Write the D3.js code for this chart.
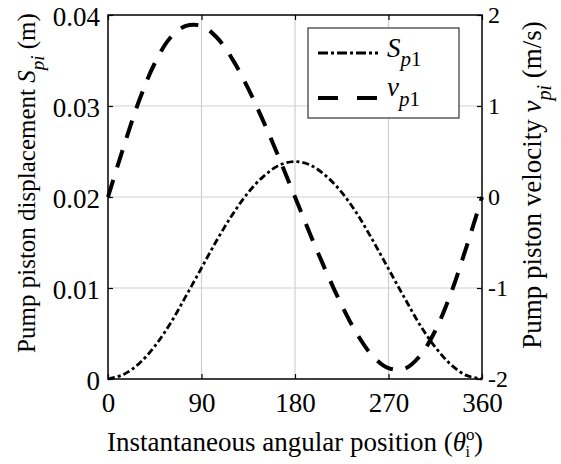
<!DOCTYPE html>
<html><head><meta charset="utf-8">
<script src="https://cdn.jsdelivr.net/npm/d3@7"></script>
</head>
<body style="margin:0;background:#fff">
<svg id="c" width="561" height="464"></svg>
<script>
// Data
const angles = [0,15,30,45,60,75,90,105,120,135,150,165,180,195,210,225,240,255,270,285,300,315,330,345,360];
const displacement = [0,0.0005,0.0017,0.0036,0.0061,0.0091,0.0122,0.0153,0.0181,0.0205,0.0223,0.0235,0.0239,0.0235,0.0223,0.0205,0.0181,0.0152,0.0121,0.0090,0.0060,0.0035,0.0016,0.0004,0];
const velocity = [0,0.55,1.06,1.47,1.75,1.88,1.88,1.75,1.51,1.19,0.82,0.42,0,-0.42,-0.82,-1.19,-1.51,-1.75,-1.88,-1.89,-1.75,-1.47,-1.06,-0.55,0];
const xTicks = [0,90,180,270,360];
const yLeftTicks = [0,0.01,0.02,0.03,0.04];
const yLeftLabels = ["0","0.01","0.02","0.03","0.04"];
const yRightTicks = [-2,-1,0,1,2];
const yRightLabels = ["-2","-1","0","1","2"];

const FONT = "'Liberation Serif'";
const svg = d3.select("#c");
const L=108, R=482, T=15, B=379;
const x = d3.scaleLinear().domain([0,360]).range([L,R]);
const yL = d3.scaleLinear().domain([0,0.04]).range([B,T]);
const yR = d3.scaleLinear().domain([-2,2]).range([B,T]);
const FS = 27;

// grid
const g = svg.append("g");
g.selectAll(".gx").data(xTicks.slice(1,-1)).enter().append("line")
 .attr("x1",d=>x(d)).attr("x2",d=>x(d)).attr("y1",T).attr("y2",B)
 .attr("stroke","#cfcfcf").attr("stroke-width",1.2);
g.selectAll(".gy").data(yLeftTicks.slice(1,-1)).enter().append("line")
 .attr("x1",L).attr("x2",R).attr("y1",d=>yL(d)).attr("y2",d=>yL(d))
 .attr("stroke","#cfcfcf").attr("stroke-width",1.2);

// curves
const lineS = d3.line().x((d,i)=>x(angles[i])).y(d=>yL(d)).curve(d3.curveCatmullRom);
const lineV = d3.line().x((d,i)=>x(angles[i])).y(d=>yR(d)).curve(d3.curveCatmullRom);
svg.append("path").attr("d",lineS(displacement)).attr("fill","none")
 .attr("stroke","#000").attr("stroke-width",2.8).attr("stroke-dasharray","7,3,3,3");
svg.append("path").attr("d",lineV(velocity)).attr("fill","none")
 .attr("stroke","#000").attr("stroke-width",4).attr("stroke-dasharray","18,13");

// axes
function styleAxis(size){
  return sel=>{
    sel.attr("font-family",null).attr("font-size",null);
    sel.select(".domain").remove();
    sel.selectAll(".tick line").attr("stroke","#000").attr("stroke-width",1.2);
    sel.selectAll(".tick text").style("font-size",size+"px").style("font-family",FONT).attr("fill","#000");
  };
}
svg.append("g").attr("transform",`translate(0,${B})`)
 .call(d3.axisBottom(x).tickValues(xTicks).tickSizeInner(-5).tickSizeOuter(0).tickPadding(14))
 .call(styleAxis(FS));
svg.append("g").attr("transform",`translate(0,${T})`)
 .call(d3.axisTop(x).tickValues(xTicks).tickSizeInner(-5).tickSizeOuter(0).tickFormat(""))
 .call(styleAxis(FS));
svg.append("g").attr("transform",`translate(${L},0)`)
 .call(d3.axisLeft(yL).tickValues(yLeftTicks).tickFormat((d,i)=>yLeftLabels[i]).tickSizeInner(-5).tickSizeOuter(0).tickPadding(8))
 .call(styleAxis(FS))
 .selectAll(".tick text").attr("dy","0.37em");
svg.append("g").attr("transform",`translate(${R},0)`)
 .call(d3.axisRight(yR).tickValues(yRightTicks).tickFormat((d,i)=>yRightLabels[i]).tickSizeInner(-5).tickSizeOuter(0).tickPadding(6))
 .call(styleAxis(24))
 .selectAll(".tick text").attr("dy","0.3em");

// box
svg.append("rect").attr("x",L).attr("y",T).attr("width",R-L).attr("height",B-T)
 .attr("fill","none").attr("stroke","#000").attr("stroke-width",1.5);

// legend
svg.append("rect").attr("x",308).attr("y",28).attr("width",151).attr("height",90)
 .attr("fill","#fff").attr("stroke","#333").attr("stroke-width",1.2);
svg.append("line").attr("x1",318).attr("x2",378).attr("y1",53).attr("y2",53)
 .attr("stroke","#000").attr("stroke-width",2.8).attr("stroke-dasharray","10,3,3,3");
svg.append("line").attr("x1",318).attr("x2",378).attr("y1",98).attr("y2",98)
 .attr("stroke","#000").attr("stroke-width",4).attr("stroke-dasharray","20,19");
function txt(){ return svg.append("text").style("font-family",FONT).style("font-size",FS+"px").attr("fill","#000"); }
const l1 = txt().attr("x",387).attr("y",57);
l1.append("tspan").attr("font-style","italic").text("S");
l1.append("tspan").attr("dy",9).style("font-size","21px").attr("font-style","italic").text("p");
l1.append("tspan").style("font-size","21px").text("1");
const l2 = txt().attr("x",387).attr("y",96);
l2.append("tspan").attr("font-style","italic").text("v");
l2.append("tspan").attr("dy",10).style("font-size","21px").attr("font-style","italic").text("p");
l2.append("tspan").style("font-size","21px").text("1");

// x title
const xt = txt().attr("x",107).attr("y",451);
xt.append("tspan").text("Instantaneous angular position (");
xt.append("tspan").attr("font-style","italic").text("θ");
xt.append("tspan").attr("dy",-11).style("font-size","17px").text("o");
xt.append("tspan").attr("dx",-9).attr("dy",17).style("font-size","16px").text("i");
xt.append("tspan").attr("dx",4).attr("dy",-6).text(")");

// left y title
const yt = txt().attr("transform",`translate(35,183) rotate(-90)`).attr("text-anchor","middle").style("font-size","25px");
yt.append("tspan").text("Pump piston displacement ");
yt.append("tspan").attr("font-style","italic").text("S");
yt.append("tspan").attr("dy",9).style("font-size","19px").attr("font-style","italic").text("pi");
yt.append("tspan").attr("dy",-9).text(" (m)");

// right y title
const yt2 = txt().attr("transform",`translate(541,185) rotate(-90)`).attr("text-anchor","middle");
yt2.append("tspan").text("Pump piston velocity ");
yt2.append("tspan").attr("font-style","italic").text("v");
yt2.append("tspan").attr("dy",10).style("font-size","20px").attr("font-style","italic").text("pi");
yt2.append("tspan").attr("dy",-10).text(" (m/s)");
</script>
</body></html>
